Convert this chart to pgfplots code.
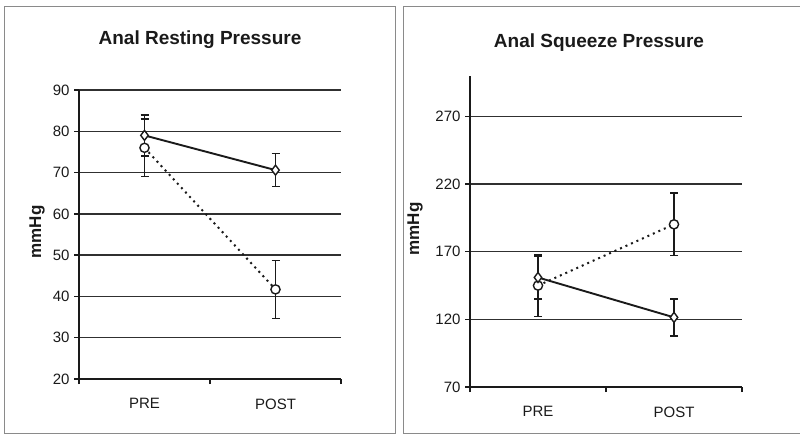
\documentclass[border=0pt]{standalone}
\usepackage{pgfplots}
\pgfplotsset{compat=1.18}
\usepackage{fontspec}
\setmainfont{Liberation Sans}

\definecolor{ink}{HTML}{1A1A1A}
\definecolor{gridc}{HTML}{303030}
\definecolor{framec}{HTML}{8A8A8A}

\pgfplotsset{
  panel/.style={
    scale only axis,
    anchor=south west,
    axis lines=left,
    axis line style={ink, line width=2pt, -},
    xmin=0, xmax=2,
    xtick={0,1,2},
    xticklabels={},
    extra x ticks={0.5,1.5},
    extra x tick labels={PRE,POST},
    extra x tick style={major tick length=0pt, xticklabel style={yshift=-16pt}},
    tick align=outside,
    major tick length=5pt,
    tick style={ink, line width=1.4pt},
    ymajorgrids,
    grid style={gridc, line width=1.4pt},
    tick label style={font=\fontsize{15}{18}\selectfont, text=ink},
    yticklabel style={xshift=-1pt},
    /pgf/number format/assume math mode=true,
    clip=false,
  },
  pre/.style={ink, line width=1.9pt, mark=diamond*, mark size=5pt,
    mark options={solid, fill=white, line width=1.4pt},
    error bars/.cd, y dir=both, y explicit,
    error bar style={solid, line width=1.5pt},
    error mark options={rotate=90, mark size=4pt, line width=1.5pt}},
  dot/.style={ink, line width=2pt, dash pattern=on 2pt off 4pt,
    mark=*, mark size=4.6pt,
    mark options={solid, fill=white, line width=1.4pt},
    error bars/.cd, y dir=both, y explicit,
    error bar style={solid, line width=1.5pt},
    error mark options={rotate=90, mark size=4pt, line width=1.5pt}},
}

\begin{document}
\begin{tikzpicture}[x=1pt, y=1pt]
\path[use as bounding box] (0,0) rectangle (800,437);
\clip (0,0) rectangle (800,437);

% panel frames
\draw[framec, line width=0.8pt] (4,4) rectangle (395,431);
\draw[framec, line width=0.8pt] (403,4) rectangle (812,431);

% titles and axis labels
\node[anchor=base, font=\bfseries\fontsize{19}{22}\selectfont, text=ink] at (200,392) {Anal Resting Pressure};
\node[anchor=base, font=\bfseries\fontsize{19}{22}\selectfont, text=ink] at (599,389) {Anal Squeeze Pressure};
\node[rotate=90, font=\bfseries\fontsize{17}{20}\selectfont, text=ink] at (37,205) {mmHg};
\node[rotate=90, font=\bfseries\fontsize{17}{20}\selectfont, text=ink] at (415,208) {mmHg};

% resting pressure
\begin{axis}[panel, at={(79pt,58pt)}, width=262pt, height=289pt,
  ymin=20, ymax=90, ytick={20,30,...,90}]
  \addplot[dot] coordinates {(0.5,76) +- (0,7) (1.5,41.7) +- (0,7)};
  \addplot[pre] coordinates {(0.5,79) +- (0,5) (1.5,70.6) +- (0,4)};
\end{axis}

% squeeze pressure
\begin{axis}[panel, at={(470pt,50pt)}, width=272pt, height=311pt,
  ymin=70, ymax=300, ytick={70,120,170,220,270}]
  \addplot[dot] coordinates {(0.5,145) +- (0,23) (1.5,190.3) +- (0,23)};
  \addplot[pre] coordinates {(0.5,151) +- (0,16) (1.5,121.5) +- (0,13.7)};
\end{axis}
\end{tikzpicture}
\end{document}
